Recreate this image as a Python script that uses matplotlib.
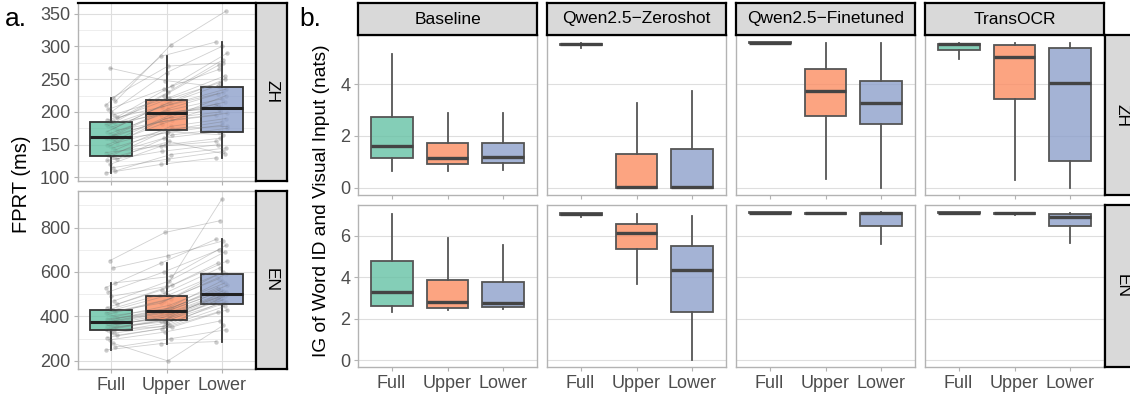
import numpy as np
import matplotlib
matplotlib.use('Agg')
import matplotlib.pyplot as plt

plt.rcParams['font.family'] = ['Liberation Sans', 'DejaVu Sans']

W, H = 1130, 398

conditions = ['Full', 'Upper', 'Lower']
set2 = ['#66C2A5', '#FC8D62', '#8DA0CB']
models = ['Baseline', 'Qwen2.5\u2212Zeroshot', 'Qwen2.5\u2212Finetuned', 'TransOCR']
languages = ['ZH', 'EN']

# ---- panel a: FPRT (ms) per participant, columns Full / Upper / Lower
zh_full = [107, 110, 115, 120, 126, 128, 131, 133, 135, 138, 142, 145, 148, 150, 153, 156, 158, 160, 161, 163,
           165, 167, 170, 172, 175, 177, 179, 181, 183, 185, 186, 188, 192, 196, 200, 204, 210, 216, 222, 267]
zh_upper = [120, 135, 128, 150, 140, 165, 155, 172, 160, 148, 178, 170, 190, 182, 175, 195, 168, 200, 185, 192,
            205, 198, 210, 188, 215, 202, 225, 196, 212, 230, 218, 208, 240, 222, 260, 235, 285, 302, 270, 248]
zh_lower = [130, 145, 140, 160, 150, 175, 136, 185, 170, 155, 190, 165, 200, 210, 178, 215, 180, 205, 195, 225,
            230, 208, 240, 198, 250, 220, 272, 212, 235, 280, 245, 228, 290, 255, 300, 265, 307, 354, 275, 238]

en_full = [249, 262, 280, 295, 305, 315, 325, 332, 338, 342, 345, 348, 352, 358, 360, 362, 366, 370, 373, 376,
           380, 384, 388, 392, 398, 403, 410, 416, 422, 428, 432, 440, 455, 470, 490, 510, 530, 551, 618, 651]
en_upper = [278, 300, 200, 330, 345, 352, 360, 370, 355, 380, 388, 390, 375, 395, 412, 400, 410, 385, 415, 420,
            425, 430, 418, 440, 450, 435, 470, 460, 480, 495, 505, 520, 540, 560, 535, 600, 640, 580, 673, 778]
en_lower = [287, 340, 360, 380, 420, 430, 445, 455, 460, 470, 465, 475, 480, 485, 500, 490, 495, 500, 505, 510,
            515, 520, 530, 540, 550, 560, 570, 585, 590, 600, 620, 640, 650, 690, 928, 700, 748, 720, 740, 831]

# box stats (whislo, q1, med, q3, whishi) for Full / Upper / Lower
zh_fprt_box = [[107, 133, 162, 185, 222], [120, 173, 198, 219, 285], [130, 170, 206, 238, 307]]
en_fprt_box = [[249, 337, 375, 428, 551], [278, 385, 424, 492, 640], [287, 454, 502, 591, 748]]

# ---- panel b: IG of Word ID and Visual Input (nats), per model x condition
ig_zh_box = [
    [[0.64, 1.13, 1.63, 2.75, 5.16], [0.64, 0.93, 1.15, 1.73, 2.90], [0.70, 0.97, 1.20, 1.73, 2.87]],
    [[5.41, 5.51, 5.54, 5.57, 5.58], [0.00, 0.00, 0.02, 1.31, 3.27], [0.00, 0.00, 0.04, 1.49, 3.73]],
    [[5.60, 5.60, 5.61, 5.62, 5.62], [0.32, 2.76, 3.72, 4.59, 5.58], [0.00, 2.45, 3.29, 4.13, 5.58]],
    [[4.97, 5.31, 5.54, 5.57, 5.58], [0.28, 3.41, 5.07, 5.50, 5.58], [0.00, 1.04, 4.06, 5.38, 5.58]],
]
ig_en_box = [
    [[2.31, 2.63, 3.29, 4.81, 7.05], [2.42, 2.53, 2.81, 3.89, 5.89], [2.47, 2.56, 2.76, 3.77, 5.55]],
    [[6.90, 7.02, 7.06, 7.10, 7.12], [3.66, 5.39, 6.13, 6.56, 7.06], [0.03, 2.35, 4.35, 5.52, 6.95]],
    [[7.12, 7.12, 7.13, 7.14, 7.14], [7.05, 7.08, 7.10, 7.12, 7.13], [5.60, 6.50, 7.10, 7.13, 7.14]],
    [[7.12, 7.12, 7.13, 7.14, 7.14], [7.00, 7.06, 7.09, 7.11, 7.12], [5.68, 6.48, 6.94, 7.08, 7.11]],
]

fig = plt.figure(figsize=(W / 100, H / 100), dpi=100)


def rect(x0, y0, x1, y1):
    # pixel box (top-left origin) -> figure coords
    return [x0 / W, 1 - y1 / H, (x1 - x0) / W, (y1 - y0) / H]


def to_stats(rows):
    return [dict(whislo=r[0], q1=r[1], med=r[2], q3=r[3], whishi=r[4], fliers=[]) for r in rows]


def style_axes(ax, border='#B3B3B3'):
    for s in ax.spines.values():
        s.set_color(border)
        s.set_linewidth(1.0)
    ax.tick_params(colors='#B3B3B3', labelcolor='#4D4D4D', labelsize=13, length=3, width=0.8, pad=2.5)
    ax.set_axisbelow(True)


def strip(r, label, rot=0, size=12.5):
    s = fig.add_axes(rect(*r))
    s.set_facecolor('#D9D9D9')
    s.set_xticks([])
    s.set_yticks([])
    for sp in s.spines.values():
        sp.set_color('black')
        sp.set_linewidth(1.6)
    s.text(0.5, 0.5, label, rotation=rot, ha='center', va='center', fontsize=size, transform=s.transAxes)
    return s


def draw_box(ax, rows, edge, med_col, lw, med_lw, alpha):
    bp = ax.bxp(to_stats(rows), positions=[1, 2, 3], widths=0.75, patch_artist=True, showfliers=False,
                showcaps=False, manage_ticks=False,
                boxprops=dict(edgecolor=edge, linewidth=lw),
                whiskerprops=dict(color=edge, linewidth=lw),
                medianprops=dict(color=med_col, linewidth=med_lw, solid_capstyle='butt'))
    for patch, c in zip(bp['boxes'], set2):
        rgb = matplotlib.colors.to_rgb(c)
        patch.set_facecolor((*rgb, alpha))
    return bp


def ylim_from(vals):
    lo, hi = min(vals), max(vals)
    pad = (hi - lo) * 0.05
    return lo - pad, hi + pad


# ---------------- panel a ----------------
a_data = [(zh_full, zh_upper, zh_lower, zh_fprt_box, np.arange(100, 351, 50), np.arange(125, 351, 50)),
          (en_full, en_upper, en_lower, en_fprt_box, np.arange(200, 801, 200), np.arange(300, 901, 200))]
a_rows = [(3, 181), (191, 369)]
for i, (full, upper, lower, box, major, minor) in enumerate(a_data):
    y0, y1 = a_rows[i]
    ax = fig.add_axes(rect(78, y0, 255, y1))
    style_axes(ax)
    draw_box(ax, box, '#333333', '#222222', 1.3, 2.2, 0.8)
    n = len(full)
    jit = ((np.arange(n) * 7) % 9 - 4) * 0.025
    vals = np.array([full, upper, lower])
    for k in range(n):
        ax.plot([1 + jit[k], 2 + jit[k], 3 + jit[k]], vals[:, k], color='#6E6E6E', alpha=0.32, linewidth=0.6)
    for j in range(3):
        ax.scatter(j + 1 + jit, vals[j], s=10, color='#6E6E6E', alpha=0.35, linewidths=0)
    ax.set_xlim(0.4, 3.6)
    ax.set_ylim(*ylim_from(full + upper + lower))
    ax.set_yticks(major)
    ax.set_yticks(minor, minor=True)
    ax.tick_params(which='minor', length=0)
    ax.set_xticks([1, 2, 3])
    ax.grid(True, which='major', color='#DEDEDE', linewidth=0.8)
    ax.grid(True, which='minor', axis='y', color='#E8E8E8', linewidth=0.5)
    if i == 0:
        ax.set_xticklabels([])
        ax.spines['top'].set_color('black')
        ax.spines['top'].set_linewidth(1.6)
    else:
        ax.set_xticklabels(conditions)
    strip((256, y0, 287, y1), languages[i], rot=-90)

fig.text(22 / W, 1 - 184 / H, 'FPRT (ms)', rotation=90, ha='center', va='center', fontsize=14.5)
fig.text(5 / W, 1 - 26 / H, 'a.', fontsize=19, ha='left', va='baseline')

# ---------------- panel b ----------------
col_x = [(358, 537), (547, 726), (736, 915), (925, 1104)]
b_rows = [(35, 195), (205, 367)]
b_data = [ig_zh_box, ig_en_box]
b_ticks = [[0, 2, 4], [0, 2, 4, 6]]
for r in range(2):
    y0, y1 = b_rows[r]
    allv = [v for m in b_data[r] for c in m for v in c]
    for m in range(4):
        x0, x1 = col_x[m]
        ax = fig.add_axes(rect(x0, y0, x1, y1))
        style_axes(ax)
        draw_box(ax, b_data[r][m], '#555555', '#444444', 1.3, 2.4, 0.8)
        ax.set_xlim(0.4, 3.6)
        ax.set_ylim(*ylim_from(allv))
        ax.set_yticks(b_ticks[r])
        ax.set_xticks([1, 2, 3])
        ax.grid(True, axis='y', color='#DEDEDE', linewidth=0.8)
        if m > 0:
            ax.tick_params(axis='y', length=0, labelleft=False)
        if r == 0:
            ax.set_xticklabels([])
            strip((x0, 3, x1, 35), models[m])
        else:
            ax.set_xticklabels(conditions)
    strip((1105, y0, 1140, y1), languages[r], rot=-90)

fig.text(322 / W, 1 - 201 / H, 'IG of Word ID and Visual Input (nats)', rotation=90, ha='center', va='center',
         fontsize=13.8)
fig.text(299 / W, 1 - 26 / H, 'b.', fontsize=19, ha='left', va='baseline')

fig.savefig('out.png', dpi=100)
